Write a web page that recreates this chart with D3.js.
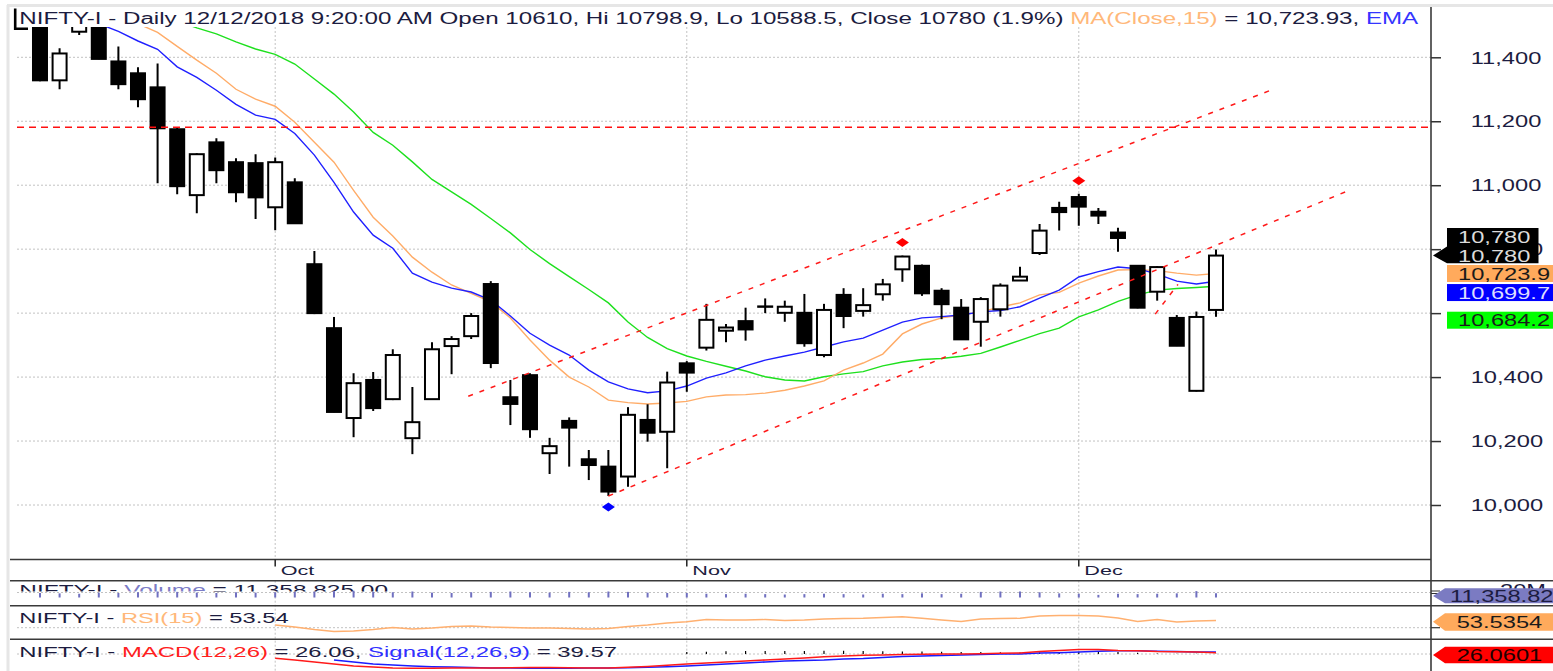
<!DOCTYPE html>
<html>
<head>
<meta charset="utf-8">
<script src="https://cdn.jsdelivr.net/npm/d3@7"></script>
<style>
  body { margin: 0; background: #fff; }
  svg { display: block; }
  text { white-space: pre; }
</style>
</head>
<body>
<svg id="chart" width="1553" height="671"></svg>
<script>
// ---- data ----
const dates = [
  "2018-09-11","2018-09-12","2018-09-14","2018-09-17","2018-09-18","2018-09-19","2018-09-21","2018-09-24","2018-09-25","2018-09-26","2018-09-27","2018-09-28",
  "2018-10-01","2018-10-03","2018-10-04","2018-10-05","2018-10-08","2018-10-09","2018-10-10","2018-10-11","2018-10-12","2018-10-15","2018-10-16","2018-10-17","2018-10-19","2018-10-22","2018-10-23","2018-10-24","2018-10-25","2018-10-26","2018-10-29","2018-10-30","2018-10-31",
  "2018-11-01","2018-11-02","2018-11-05","2018-11-06","2018-11-07","2018-11-09","2018-11-12","2018-11-13","2018-11-14","2018-11-15","2018-11-16","2018-11-19","2018-11-20","2018-11-21","2018-11-22","2018-11-26","2018-11-27","2018-11-28","2018-11-29","2018-11-30",
  "2018-12-03","2018-12-04","2018-12-05","2018-12-06","2018-12-07","2018-12-10","2018-12-11","2018-12-12"
];
const opens = [11540,11328,11480,11530,11387,11350,11306,11175,10969,11134,11072,11069,
  10931,11009,10753,10553,10272,10391,10331,10209,10331,10497,10528,10691,10337,10406,10162,10263,10143,10120,10089,10266,10229,
  10443,10492,10545,10575,10621,10601,10601,10469,10657,10607,10659,10737,10748,10670,10617,10573,10612,10702,10788,10929,
  10963,10917,10852,10748,10667,10585,10357,10610];
const highs = [11560,11428,11520,11540,11434,11369,11381,11180,11100,11147,11084,11097,
  11087,11022,10794,10588,10412,10416,10487,10369,10509,10528,10600,10700,10391,10412,10210,10274,10172,10172,10306,10315,10417,
  10450,10629,10566,10617,10646,10639,10660,10629,10678,10678,10707,10780,10752,10678,10644,10650,10693,10745,10879,10948,
  10973,10929,10867,10750,10747,10594,10605,10798.9];
const lows = [11325,11300,11470,11394,11300,11244,11006,10972,10912,11006,10947,10894,
  10859,10880,10597,10290,10212,10294,10328,10159,10331,10409,10519,10428,10250,10210,10097,10120,10078,10028,10057,10198,10115,
  10354,10483,10509,10514,10600,10573,10495,10462,10553,10589,10639,10698,10654,10581,10516,10495,10589,10701,10782,10858,
  10873,10879,10792,10615,10639,10497,10355,10588.5];
const closes = [11328,11412,11510,11395,11316,11269,11178,10997,11097,11047,10978,10962,
  11072,10881,10600,10291,10381,10303,10469,10259,10487,10519,10591,10444,10316,10237,10184,10242,10125,10042,10282,10226,10383,
  10414,10579,10555,10549,10620,10620,10506,10610,10591,10625,10690,10777,10662,10628,10518,10644,10686,10714,10858,10916,
  10933,10905,10835,10617,10744,10498,10588,10780];

const maClose15 = [11640,11610,11580,11555,11530,11505,11478,11434,11391,11350,11300,11269,
  11247,11197,11134,11072,10984,10900,10841,10775,10728,10688,10662,10635,10585,10516,10453,10400,10369,10328,10320,10316,10319,
  10324,10338,10344,10345,10350,10359,10372,10388,10422,10444,10472,10535,10566,10585,10594,10604,10619,10632,10657,10665,
  10694,10716,10735,10736,10733,10725,10719,10723.93];
const emaValues = [11560,11540,11520,11505,11481,11451,11425,11370,11337,11297,11253,11219,
  11206,11162,11094,11009,10916,10844,10803,10725,10697,10678,10666,10641,10591,10537,10500,10469,10422,10385,10363,10351,10357,
  10372,10397,10413,10435,10453,10466,10478,10494,10510,10522,10547,10572,10585,10589,10594,10604,10608,10620,10647,10672,
  10713,10730,10744,10739,10722,10700,10691,10699.7];
const greenAvg = [11700,11670,11640,11610,11585,11560,11537,11514,11492,11473,11448,11426,
  11409,11379,11332,11285,11229,11165,11125,11073,11018,10979,10940,10896,10851,10799,10755,10714,10674,10632,10572,10524,10489,
  10466,10449,10434,10419,10401,10391,10388,10401,10410,10417,10435,10447,10455,10458,10465,10474,10494,10515,10536,10553,
  10588,10610,10637,10657,10672,10677,10680,10684.2];

const volumes = [12,11,10,13,12,14,16,15,13,12,14,13,
  14,15,16,17,18,15,14,16,13,12,14,15,16,14,13,15,14,16,15,13,12,
  12,10,9,10,9,8,9,10,9,8,10,9,11,9,10,15,16,16,14,11,
  10,7,10,9,10,11,17,11.358825].map(v => v * 1e6);

const rsiValues = [null,null,null,null,null,null,null,null,null,null,null,null,
  38.8,32.3,24.1,17.6,19.2,24.1,30.7,25.8,29.0,33.9,35.6,32.3,30.7,29.0,29.0,27.4,25.8,27.4,33.9,38.8,45.4,
  49.6,56.8,55.2,55.2,56.8,53.5,55.2,58.4,60.1,60.7,63.3,65.9,60.7,55.2,50.3,58.4,60.1,60.7,68.2,69.9,
  69.9,68.2,61.7,50.3,56.8,48.6,51.9,53.54];
const macdValues = [null,null,null,null,null,null,null,null,null,null,null,null,
  -86,-120,-160,-200,-240,-260,-280,-286,-286,-280,-280,-280,-274,-270,-270,-274,-280,-280,-266,-250,-226,
  -200,-180,-160,-140,-120,-100,-80,-54,-40,-26,-20,-10,-6,0,0,6,14,20,50,70,
  90,90,70,66,50,46,40,26.06];
const signalValues = [null,null,null,null,null,null,null,null,null,null,null,null,
  null,null,null,-120,-160,-200,-220,-240,-254,-260,-270,-280,-280,-286,-286,-286,-280,-280,-274,-266,-254,
  -240,-220,-200,-180,-160,-140,-130,-120,-100,-90,-70,-50,-40,-30,-20,-10,0,0,20,26,
  40,54,64,66,54,50,40,39.57];
const macdHist = [0,0,0,0,0,0,0,0,0,0,0,0,
  0,0,0,0,0,0,0,0,0,0,0,0,0,0,0,0,0,0,0,0,0,
  40,45,55,60,60,60,60,65,65,60,55,50,50,45,40,40,35,30,30,35,
  45,50,40,25,10,5,5,5];

const priceTicks = [10000,10200,10400,10600,10800,11000,11200,11400];
const resistanceLevel = 11181;
const upperChannel = [[21.85,10340],[62.75,11296]];
const lowerChannel = [[29,10028],[66.6,10979]];
const shortTrend = [[56.9,10597],[58.06,10690]];
const swingHighs = [44,53];
const swingLows = [29];

// ---- layout ----
const FONT = "'Liberation Sans', Arial, Helvetica, sans-serif";
const TEXT = "#1c1c40";
const SX = 1.48; // the reference has horizontally stretched lettering
const plot = { left: 10, right: 1431, top: 27, bottom: 559.5 };
const rows = { dateBottom: 580.7, volBottom: 605.7, rsiBottom: 639.3, end: 671 };

const svg = d3.select("#chart").attr("font-family", FONT);

const x = d3.scaleLinear().domain([-1.53, 70.97]).range([plot.left, plot.right]);
const y = d3.scaleLinear().domain([10000, 11400]).range([505, 57.3]);
const yVol = d3.scaleLinear().domain([0, 20e6]).range([597.5, 590]);
const yRsi = d3.scaleLinear().domain([30, 70]).range([627.7, 615.46]);
const yMacd = d3.scaleLinear().domain([0, 100]).range([654, 649]);

const defs = svg.append("defs");
defs.append("clipPath").attr("id", "plotClip").append("rect")
  .attr("x", plot.left).attr("y", plot.top).attr("width", plot.right - plot.left).attr("height", plot.bottom - plot.top);
defs.append("clipPath").attr("id", "volTextClip").append("rect")
  .attr("x", 0).attr("y", rows.dateBottom).attr("width", plot.right).attr("height", 10.8);
defs.append("clipPath").attr("id", "volRightClip").append("rect")
  .attr("x", plot.right).attr("y", rows.dateBottom + 1).attr("width", 130).attr("height", 24);

// helper: text stretched horizontally, optionally fitted to a width
function addText(parent, px, py, parts, size, fitWidth, sx) {
  const t = parent.append("text").attr("font-size", size).attr("fill", TEXT);
  parts.forEach(p => t.append("tspan").attr("fill", p[1] || TEXT).text(p[0]));
  let s = sx || SX;
  if (fitWidth) s = fitWidth / t.node().getComputedTextLength();
  t.attr("transform", `translate(${px},${py}) scale(${s},1)`);
  return t;
}

// ---- frame ----
svg.append("rect").attr("width", 1553).attr("height", 671).attr("fill", "#fff");
svg.append("line").attr("x1", 7).attr("x2", 1553).attr("y1", 5.5).attr("y2", 5.5).attr("stroke", "#e6e6e6").attr("stroke-width", 3);
svg.append("line").attr("x1", 8).attr("x2", 8).attr("y1", 5).attr("y2", 671).attr("stroke", "#e6e6e6").attr("stroke-width", 3);

// ---- grid ----
const grid = svg.append("g").attr("stroke", "#c2c2c2").attr("stroke-width", 1).attr("stroke-dasharray", "2,2");
grid.selectAll("line.h").data(priceTicks).join("line")
  .attr("x1", 17).attr("x2", plot.right).attr("y1", d => y(d)).attr("y2", d => y(d));

const monthStarts = dates.map((d, i) => ({ i, date: d3.timeParse("%Y-%m-%d")(d) }))
  .filter((d, i, a) => i > 0 && d.date.getMonth() !== a[i - 1].date.getMonth());
monthStarts.forEach(m => {
  grid.append("line").attr("x1", x(m.i)).attr("x2", x(m.i)).attr("y1", plot.top).attr("y2", plot.bottom);
  grid.append("line").attr("x1", x(m.i)).attr("x2", x(m.i)).attr("y1", rows.dateBottom).attr("y2", rows.end);
});
[yVol(20e6) + 2.5, yRsi(30), yMacd(0)].forEach(gy => {
  grid.append("line").attr("x1", 17).attr("x2", plot.right).attr("y1", gy).attr("y2", gy);
});

// ---- price panel ----
const plotG = svg.append("g").attr("clip-path", "url(#plotClip)");
const lineGen = d3.line().defined(d => d[1] != null).x(d => x(d[0])).y(d => y(d[1]));
[[greenAvg, "#1ee01e"], [maClose15, "#ffac68"], [emaValues, "#2020ff"]].forEach(([arr, col]) => {
  plotG.append("path").datum(arr.map((v, i) => [i, v]))
    .attr("d", lineGen).attr("fill", "none").attr("stroke", col).attr("stroke-width", 1.4);
});

const candles = dates.map((d, i) => ({ i, o: opens[i], h: highs[i], l: lows[i], c: closes[i] }));
const cg = plotG.selectAll("g.candle").data(candles).join("g").attr("class", "candle");
cg.append("line")
  .attr("x1", d => x(d.i)).attr("x2", d => x(d.i))
  .attr("y1", d => y(d.h)).attr("y2", d => y(d.l))
  .attr("stroke", "#000").attr("stroke-width", 2);
cg.append("rect")
  .attr("x", d => x(d.i) - 7).attr("width", 14)
  .attr("y", d => y(Math.max(d.o, d.c)))
  .attr("height", d => Math.max(0.4, Math.abs(y(d.o) - y(d.c))))
  .attr("fill", d => d.c >= d.o ? "#fff" : "#000")
  .attr("stroke", "#000").attr("stroke-width", 2);

// red dashed study lines
plotG.append("line").attr("x1", 17).attr("x2", plot.right)
  .attr("y1", y(resistanceLevel)).attr("y2", y(resistanceLevel))
  .attr("stroke", "#ff1010").attr("stroke-width", 1.5).attr("stroke-dasharray", "7,5");
[upperChannel, lowerChannel, shortTrend].forEach(seg => {
  plotG.append("path").datum(seg).attr("d", lineGen)
    .attr("fill", "none").attr("stroke", "#ff1a1a").attr("stroke-width", 1.5).attr("stroke-dasharray", "5,7");
});

// swing markers
const diamond = "M0,-4.5L6.5,0L0,4.5L-6.5,0Z";
swingHighs.forEach(i => plotG.append("path").attr("d", diamond)
  .attr("transform", `translate(${x(i)},${y(highs[i]) - 13})`).attr("fill", "#ff0000"));
swingLows.forEach(i => plotG.append("path").attr("d", diamond)
  .attr("transform", `translate(${x(i)},${y(lows[i]) + 11})`).attr("fill", "#0000ff"));

// top-left corner mark
svg.append("path").attr("d", "M15.2,8.5V28.8H28").attr("fill", "none").attr("stroke", "#000").attr("stroke-width", 2.6);

// title
addText(svg, 19.3, 24, [
  ["NIFTY-I - Daily 12/12/2018 9:20:00 AM Open 10610, Hi 10798.9, Lo 10588.5, Close 10780 (1.9%) "],
  ["MA(Close,15)", "#ffb87a"],
  [" = 10,723.93, "],
  ["EMA", "#3535ff"]
], 16, 1400);

// ---- separators & axis lines ----
const sep = svg.append("g").attr("stroke", "#3a3a3a").attr("stroke-width", 1.6);
sep.append("line").attr("x1", plot.left).attr("x2", plot.right).attr("y1", plot.bottom).attr("y2", plot.bottom);
[rows.dateBottom, rows.volBottom, rows.rsiBottom].forEach(sy =>
  sep.append("line").attr("x1", plot.left).attr("x2", 1553).attr("y1", sy).attr("y2", sy));
sep.append("line").attr("x1", plot.right).attr("x2", plot.right).attr("y1", 7).attr("y2", rows.end);

// date axis
monthStarts.forEach(m => {
  svg.append("line").attr("x1", x(m.i)).attr("x2", x(m.i)).attr("y1", plot.bottom).attr("y2", plot.bottom + 7)
    .attr("stroke", "#222").attr("stroke-width", 1.5);
  addText(svg, x(m.i) + 5.5, 574.5, [[d3.timeFormat("%b")(m.date)]], 13.5, null, 1.6);
});

// price value labels (moving averages stack under the close marker)
const last = dates.length - 1;
const maLabels = [
  { v: maClose15[last], fill: "#ffaa5c", color: "#1a1a1a", shift: 0 },
  { v: emaValues[last], fill: "#0000ff", color: "#dcdcff", shift: 11.3 },
  { v: greenAvg[last], fill: "#00ff00", color: "#1a1a1a", shift: 34 }
];
maLabels.forEach(l => { l.cy = y(l.v) + l.shift; });

// price axis (labels hidden where a value box sits on them)
const yAxis = d3.axisRight(y).tickValues(priceTicks).tickSize(10)
  .tickFormat(d => maLabels.some(l => Math.abs(l.cy - y(d)) < 15) ? "" : d3.format(",")(d));
const ag = svg.append("g").attr("transform", `translate(${plot.right},0)`).call(yAxis)
  .attr("font-family", FONT).attr("font-size", 16);
ag.select(".domain").remove();
ag.selectAll(".tick line").attr("stroke", "#333").attr("stroke-width", 1.5);
ag.selectAll(".tick text").attr("x", null).attr("dy", null).attr("text-anchor", "start")
  .attr("fill", TEXT).attr("transform", `translate(39.7,5.7) scale(${SX},1)`);

const yc = y(closes[last]);
svg.append("path")
  .attr("d", `M${plot.right + 2},${yc}L1447,${yc - 9}V${yc - 27.5}H1538.5V${yc + 7.8}H1447V${yc + 7.8}Z`)
  .attr("fill", "#000");
const closeLabel = d3.format(",")(closes[last]);
addText(svg, 1458, yc - 12.3, [[closeLabel, "#dcdcdc"]], 16);
addText(svg, 1458, yc + 6.1, [[closeLabel, "#dcdcdc"]], 16);

maLabels.forEach(l => {
  svg.append("rect").attr("x", 1447).attr("y", l.cy - 8.5).attr("width", 110).attr("height", 17).attr("fill", l.fill);
  addText(svg, 1458, l.cy + 6.2, [[d3.format(",.1f")(l.v), l.color]], 16);
});

// ---- volume panel ----
const volText = svg.append("g").attr("clip-path", "url(#volTextClip)");
addText(volText, 19.3, 594.5, [["NIFTY-I - "], ["Volume", "#7c7cc6"], [" = 11,358,825.00"]], 15, 369);
svg.append("g").selectAll("rect").data(volumes).join("rect")
  .attr("x", (d, i) => x(i) - 1).attr("width", 2)
  .attr("y", d => yVol(d)).attr("height", d => yVol(0) - yVol(d))
  .attr("fill", "#7070c0");
const volRight = svg.append("g").attr("clip-path", "url(#volRightClip)");
addText(volRight, 1500, 595.5, [["20M"]], 16);
volRight.append("line").attr("x1", plot.right).attr("x2", plot.right + 9).attr("y1", yVol(20e6) + 1).attr("y2", yVol(20e6) + 1)
  .attr("stroke", "#333").attr("stroke-width", 1.2);
volRight.append("line").attr("x1", plot.right).attr("x2", plot.right + 9).attr("y1", yVol(20e6) + 3.5).attr("y2", yVol(20e6) + 3.5)
  .attr("stroke", "#333").attr("stroke-width", 1.2);

function pointerBox(parent, cy, top, bottom, fill) {
  parent.append("path")
    .attr("d", `M${plot.right + 2},${cy}L1445,${top}H1560V${bottom}H1445Z`)
    .attr("fill", fill);
}
pointerBox(svg, 596, 588.3, 603.3, "#7b7bc2");
addText(svg, 1450, 601.5, [["11,358.82", TEXT]], 16);

// ---- RSI panel ----
addText(svg, 19.3, 623.4, [["NIFTY-I - "], ["RSI(15)", "#ffb87a"], [" = 53.54"]], 15, 269.5);
svg.append("path").datum(rsiValues.map((v, i) => [i, v]))
  .attr("d", d3.line().defined(d => d[1] != null).x(d => x(d[0])).y(d => yRsi(d[1])))
  .attr("fill", "none").attr("stroke", "#ffb070").attr("stroke-width", 1.4);
svg.append("line").attr("x1", plot.right).attr("x2", plot.right + 9).attr("y1", yRsi(30)).attr("y2", yRsi(30))
  .attr("stroke", "#333").attr("stroke-width", 1.2);
pointerBox(svg, 621.7, 613.3, 630.7, "#ffaa5c");
addText(svg, 1456.7, 628.2, [["53.5354", "#1a1a1a"]], 16);

// ---- MACD panel ----
addText(svg, 19.3, 656.7, [["NIFTY-I - "], ["MACD(12,26)", "#ff2020"], [" = 26.06, "], ["Signal(12,26,9)", "#3030ff"], [" = 39.57"]], 15, 598);
svg.append("g").selectAll("line").data(macdHist).join("line")
  .attr("x1", (d, i) => x(i)).attr("x2", (d, i) => x(i))
  .attr("y1", yMacd(0)).attr("y2", d => yMacd(d))
  .attr("stroke", "#000").attr("stroke-width", 1.2);
const macdLine = d3.line().defined(d => d[1] != null).x(d => x(d[0])).y(d => yMacd(d[1]));
svg.append("path").datum(signalValues.map((v, i) => [i, v]))
  .attr("d", macdLine).attr("fill", "none").attr("stroke", "#1c1cff").attr("stroke-width", 1.6);
svg.append("path").datum(macdValues.map((v, i) => [i, v]))
  .attr("d", macdLine).attr("fill", "none").attr("stroke", "#ff1a1a").attr("stroke-width", 1.6);
pointerBox(svg, 655, 646.7, 663.3, "#ff0000");
addText(svg, 1456.7, 661.2, [["26.0601", "#200000"]], 16);
</script>
</body>
</html>
